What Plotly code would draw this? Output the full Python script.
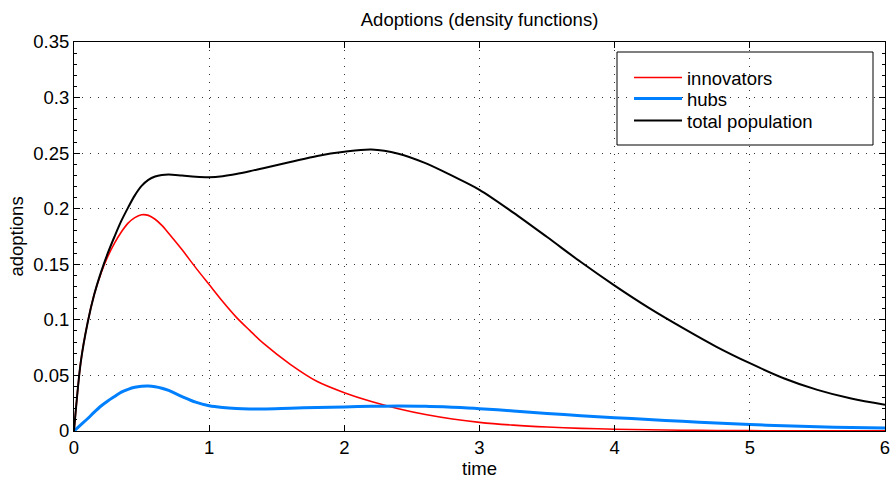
import plotly.graph_objects as go

time = [0, 0.05, 0.1, 0.15, 0.2, 0.25, 0.3, 0.35, 0.4, 0.45, 0.5, 0.55, 0.6, 0.65, 0.7,
        0.8, 0.9, 1.0, 1.1, 1.2, 1.3, 1.4, 1.6, 1.8, 2.0, 2.2, 2.4, 2.6, 2.8, 3.0,
        3.25, 3.5, 3.75, 4.0, 4.25, 4.5, 4.75, 5.0, 5.25, 5.5, 5.75, 6.0]

innovators = [0, 0.062, 0.097, 0.123, 0.142, 0.157, 0.169, 0.179, 0.187, 0.192, 0.1945, 0.194,
              0.1905, 0.185, 0.178, 0.163, 0.147, 0.1317, 0.1165, 0.1025, 0.0905, 0.079, 0.060,
              0.0445, 0.0345, 0.0265, 0.020, 0.0148, 0.0108, 0.0078, 0.0053, 0.0036, 0.0024,
              0.0016, 0.0011, 0.0007, 0.0005, 0.0003, 0.0002, 0.00015, 0.0001, 0.0001]

hubs = [0, 0.0055, 0.011, 0.017, 0.0225, 0.027, 0.031, 0.035, 0.0375, 0.0393, 0.0402, 0.0404,
        0.0398, 0.0385, 0.0365, 0.031, 0.026, 0.0228, 0.0212, 0.0203, 0.0199, 0.0198, 0.0205,
        0.0212, 0.0217, 0.0222, 0.0224, 0.0222, 0.0213, 0.0201, 0.018, 0.0158, 0.0138, 0.012,
        0.0103, 0.0087, 0.0072, 0.0058, 0.0047, 0.0038, 0.0031, 0.0026]

total = [0, 0.062, 0.097, 0.123, 0.143, 0.160, 0.175, 0.189, 0.201, 0.212, 0.2205, 0.226,
         0.229, 0.2303, 0.2307, 0.2298, 0.2288, 0.2284, 0.2293, 0.2312, 0.2337, 0.2365, 0.242,
         0.2475, 0.2512, 0.2532, 0.2495, 0.241, 0.2295, 0.217, 0.1965, 0.1745, 0.152, 0.1308,
         0.111, 0.093, 0.076, 0.061, 0.0475, 0.037, 0.0292, 0.0236]

x_ticks = [0, 1, 2, 3, 4, 5, 6]
y_ticks = [0, 0.05, 0.1, 0.15, 0.2, 0.25, 0.3, 0.35]
y_tick_labels = ["0", "0.05", "0.1", "0.15", "0.2", "0.25", "0.3", "0.35"]

FONT = "Liberation Sans, Arial, Helvetica, sans-serif"
FS = 18.5

fig = go.Figure()
fig.add_trace(go.Scatter(x=time, y=innovators, mode="lines", name="innovators", legend="legend",
                         line=dict(color="#ff0000", width=1.6, shape="spline", smoothing=0.9)))
fig.add_trace(go.Scatter(x=time, y=hubs, mode="lines", name="hubs", legend="legend2",
                         line=dict(color="#0080ff", width=3, shape="spline", smoothing=0.9)))
fig.add_trace(go.Scatter(x=time, y=total, mode="lines", name="total population", legend="legend3",
                         line=dict(color="#000000", width=2, shape="spline", smoothing=0.9)))

axis_common = dict(
    showline=True, linecolor="black", linewidth=1, mirror="ticks",
    ticks="inside", ticklen=6, tickcolor="black", tickwidth=1,
    showgrid=True, gridcolor="#333333", griddash="1px,7px", gridwidth=1,
    zeroline=False, automargin=False,
    tickfont=dict(family=FONT, size=FS, color="black"),
)

fig.update_xaxes(range=[0, 6], tickvals=x_ticks, **axis_common,
                 title=dict(text="time", font=dict(family=FONT, size=FS, color="black"), standoff=0))
fig.update_yaxes(range=[0, 0.35], tickvals=y_ticks, ticktext=y_tick_labels, **axis_common,
                 minor=dict(ticks="inside", ticklen=3, dtick=0.01, tickcolor="black", showgrid=False),
                 title=dict(text="adoptions", font=dict(family=FONT, size=FS, color="black"), standoff=4))


def leg(top_px):
    return dict(x=(629 - 74) / 811, y=(431 - top_px) / 389, xanchor="left", yanchor="top",
                bgcolor="rgba(0,0,0,0)", borderwidth=0, itemwidth=48,
                font=dict(family=FONT, size=FS, color="black"), tracegroupgap=0)


fig.update_layout(
    width=893, height=482,
    margin=dict(l=74, r=8, t=42, b=51),
    paper_bgcolor="white", plot_bgcolor="white",
    font=dict(family=FONT, size=FS, color="black"),
    title=dict(text="Adoptions (density functions)", x=0.537, xanchor="center",
               y=1 - 20 / 482, yanchor="middle", yref="container",
               font=dict(family=FONT, size=FS, color="black")),
    showlegend=True,
    legend=leg(59), legend2=leg(80), legend3=leg(102),
    shapes=[dict(type="rect", xref="paper", yref="paper",
                 x0=(617 - 74) / 811, x1=(873 - 74) / 811,
                 y0=(431 - 145) / 389, y1=(431 - 52) / 389,
                 line=dict(color="black", width=1), fillcolor="white", layer="below")],
)

fig.write_html("out.html", config={"displayModeBar": False},
               post_script="document.body.style.margin='0';document.body.style.overflow='hidden';")
